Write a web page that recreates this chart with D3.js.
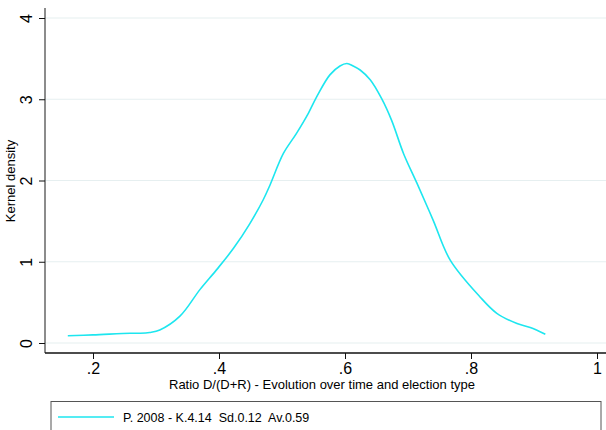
<!DOCTYPE html>
<html>
<head>
<meta charset="utf-8">
<script src="https://cdn.jsdelivr.net/npm/d3@7"></script>
<style>
  html, body { margin: 0; padding: 0; background: #fff; }
  svg { display: block; font-family: "Liberation Sans", Arial, sans-serif; }
</style>
</head>
<body>
<svg width="606" height="430"></svg>
<script>
// kernel density estimate
var ratio = [0.160, 0.200, 0.259, 0.275, 0.290, 0.306, 0.338, 0.370, 0.396, 0.423, 0.449, 0.470, 0.481,
             0.502, 0.523, 0.542, 0.555, 0.576, 0.592, 0.603, 0.613, 0.624, 0.640, 0.658, 0.674, 0.693,
             0.714, 0.740, 0.767, 0.814, 0.841, 0.873, 0.894, 0.918];
var density = [0.09, 0.10, 0.12, 0.12, 0.13, 0.16, 0.33, 0.66, 0.90, 1.165, 1.47, 1.76, 1.945,
               2.33, 2.58, 2.83, 3.03, 3.30, 3.41, 3.44, 3.41, 3.36, 3.24, 3.01, 2.74, 2.33,
               1.97, 1.51, 1.02, 0.57, 0.365, 0.24, 0.19, 0.107];
var xTicks = [0.2, 0.4, 0.6, 0.8, 1];
var yTicks = [0, 1, 2, 3, 4];
var legendLabel = "P. 2008 - K.4.14  Sd.0.12  Av.0.59";
var xTitle = "Ratio D/(D+R) - Evolution over time and election type";
var yTitle = "Kernel density";

var svg = d3.select("svg");
var x = d3.scaleLinear().domain([0.2, 1]).range([93, 597]);
var y = d3.scaleLinear().domain([0, 4]).range([343, 18]);
var left = 45, right = 606, bottom = 353;

var fmt = function(d) { return d === 1 ? "1" : d3.format(".1f")(d).replace(/^0/, ""); };

// gridlines
svg.append("g").selectAll("line").data(yTicks).enter().append("line")
  .attr("x1", left).attr("x2", right)
  .attr("y1", d => y(d)).attr("y2", d => y(d))
  .attr("stroke", "#e6eff0").attr("stroke-width", 1.2);

// y axis
var ya = svg.append("g").attr("transform", "translate(" + left + ",0)")
  .call(d3.axisLeft(y).tickValues(yTicks).tickSize(6).tickFormat(d3.format("d")));
ya.select(".domain").attr("d", "M0,8V" + bottom).attr("stroke", "#666").attr("stroke-width", 1.5);
ya.selectAll(".tick line").attr("stroke", "#111");
ya.selectAll(".tick text").attr("font-size", 16).attr("fill", "#000")
  .attr("text-anchor", "middle").attr("x", 0).attr("dy", 0)
  .attr("transform", "translate(-13,0) rotate(-90)");

// x axis
var xa = svg.append("g").attr("transform", "translate(0," + bottom + ")")
  .call(d3.axisBottom(x).tickValues(xTicks).tickSize(6).tickFormat(fmt));
xa.select(".domain").attr("d", "M" + left + ",0H" + right).attr("stroke", "#111").attr("stroke-width", 1.3);
xa.selectAll(".tick line").attr("stroke", "#111");
xa.selectAll(".tick text").attr("font-size", 16).attr("fill", "#000").attr("y", 21).attr("dy", 0);

// axis titles
svg.append("text").attr("x", 322).attr("y", 389).attr("text-anchor", "middle")
  .attr("font-size", 13).text(xTitle);
svg.append("text").attr("transform", "translate(15,181) rotate(-90)").attr("text-anchor", "middle")
  .attr("font-size", 13).text(yTitle);

// density curve
var pts = ratio.map((r, i) => [r, density[i]]);
svg.append("path").datum(pts)
  .attr("fill", "none").attr("stroke", "#1de6ef").attr("stroke-width", 1.6)
  .attr("d", d3.line().x(d => x(d[0])).y(d => y(d[1])).curve(d3.curveCatmullRom.alpha(0.5)));

// legend
var lg = svg.append("g");
lg.append("rect").attr("x", 51).attr("y", 401.5).attr("width", 550).attr("height", 40)
  .attr("fill", "#fff").attr("stroke", "#555").attr("stroke-width", 1);
lg.append("line").attr("x1", 58).attr("x2", 114).attr("y1", 417).attr("y2", 417)
  .attr("stroke", "#1de6ef").attr("stroke-width", 1.6);
lg.append("text").attr("x", 123).attr("y", 422).attr("font-size", 12.5)
  .style("white-space", "pre").text(legendLabel);
</script>
</body>
</html>
